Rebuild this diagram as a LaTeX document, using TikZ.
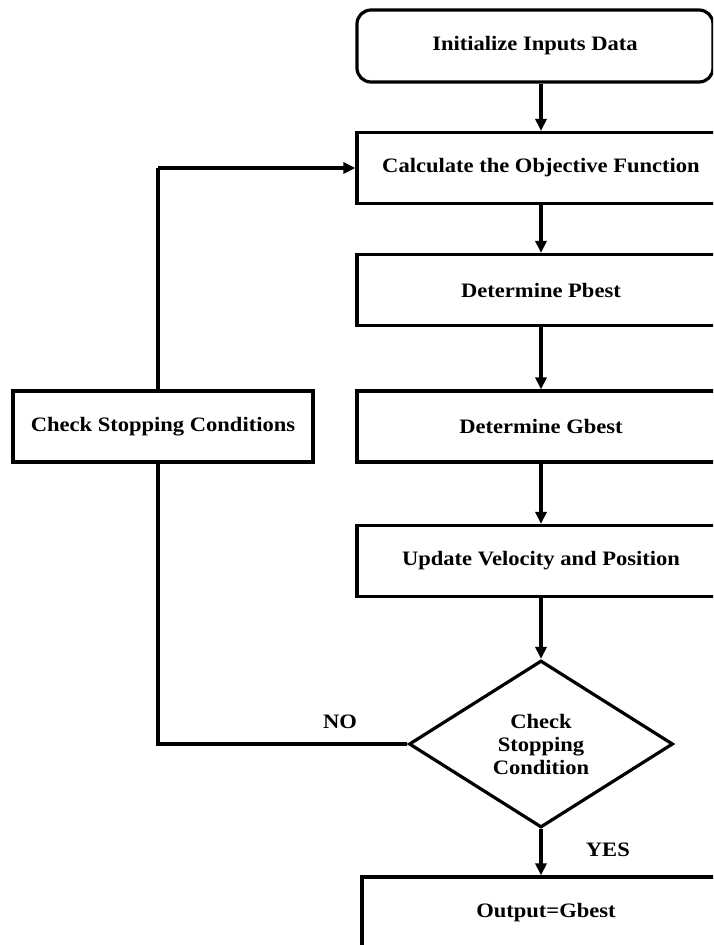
\documentclass[tikz,border=0pt]{standalone}
\usepackage{fontspec}
\setmainfont{Liberation Serif}[FakeStretch=1.1]
\usetikzlibrary{arrows.meta, positioning, shapes.geometric}

\begin{document}
\begin{tikzpicture}[x=1pt, y=1pt,
    block/.style={rectangle, draw, line width=3.2pt, minimum width=368pt, minimum height=71pt, font=\fontsize{20.5}{23}\selectfont\bfseries, align=center},
    decide/.style={diamond, draw, line width=3.2pt, minimum width=264pt, minimum height=167pt, inner sep=0pt, font=\fontsize{20.5}{23}\selectfont\bfseries, align=center},
    lbl/.style={font=\fontsize{20.5}{23}\selectfont\bfseries},
    arr/.style={-{Triangle[length=12pt, width=11pt]}, line width=3.2pt},
    ln/.style={line width=3.2pt}
  ]
  \clip (0,0) rectangle (713,-945);

  % main column
  \node[block, rounded corners=14pt, minimum width=356pt, minimum height=72pt] (init) at (535, -46) {Initialize Inputs Data};
  \node[block] (calc) at (541, -168) {Calculate the Objective Function};
  \node[block] (pbest) at (541, -290) {Determine Pbest};
  \node[block] (gbest) at (541, -426.5) {Determine Gbest};
  \node[block] (upd) at (541, -561) {Update Velocity and Position};
  \node[decide] (stop) at (541, -744) {Check\\Stopping\\Condition};
  \node[block] (out) at (546, -912.5) {Output=Gbest};

  % loop back
  \node[block, minimum width=300pt] (chk) at (163, -426.5) {Check Stopping Conditions};
  \coordinate (lb) at (158, -744);
  \coordinate (lt) at (158, -168);

  \draw[arr] (calc.north |- init.south) -- (calc.north);
  \draw[arr] (calc.south) -- (pbest.north);
  \draw[arr] (pbest.south) -- (gbest.north);
  \draw[arr] (gbest.south) -- (upd.north);
  \draw[arr] (upd.south) -- (stop.north);
  \draw[arr] (stop.south) -- (out.north -| stop.south) node[pos=0.45, right=40pt, lbl] {YES};

  \draw[ln] (stop.west) -- (lb) node[pos=0.27, above=10pt, lbl] {NO} -- (lb |- chk.south);
  \draw[ln] (lb |- chk.north) -- (lt);
  \draw[arr] (lt) -- (calc.west);
\end{tikzpicture}
\end{document}
